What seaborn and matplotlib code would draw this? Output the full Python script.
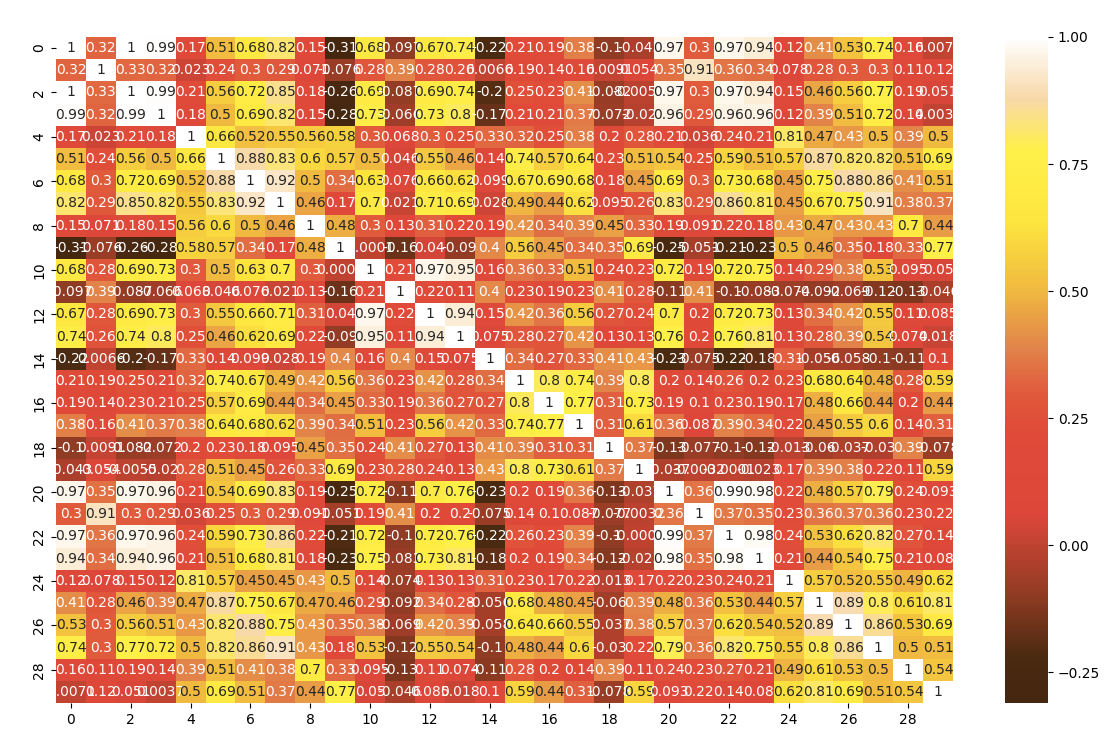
import numpy as np
import pandas as pd
import seaborn as sns
import matplotlib
matplotlib.use("Agg")
import matplotlib.pyplot as plt
from matplotlib.colors import LinearSegmentedColormap
from matplotlib.ticker import MultipleLocator

# Upper-triangle correlation values: u_i holds columns i+1 .. 29 of row i
u0 = [0.32, 1, 0.99, 0.17, 0.51, 0.68, 0.82, 0.15, -0.31, 0.68, -0.097, 0.67, 0.74, -0.22, 0.21, 0.19, 0.38, -0.1, -0.043, 0.97, 0.3, 0.97, 0.94, 0.12, 0.41, 0.53, 0.74, 0.16, 0.0071]
u1 = [0.33, 0.32, 0.023, 0.24, 0.3, 0.29, 0.071, -0.076, 0.28, 0.39, 0.28, 0.26, 0.0066, 0.19, 0.14, 0.16, 0.0091, 0.054, 0.35, 0.91, 0.36, 0.34, 0.078, 0.28, 0.3, 0.3, 0.11, 0.12]
u2 = [0.99, 0.21, 0.56, 0.72, 0.85, 0.18, -0.26, 0.69, -0.087, 0.69, 0.74, -0.2, 0.25, 0.23, 0.41, -0.082, -0.0055, 0.97, 0.3, 0.97, 0.94, 0.15, 0.46, 0.56, 0.77, 0.19, 0.051]
u3 = [0.18, 0.5, 0.69, 0.82, 0.15, -0.28, 0.73, -0.066, 0.73, 0.8, -0.17, 0.21, 0.21, 0.37, -0.072, -0.02, 0.96, 0.29, 0.96, 0.96, 0.12, 0.39, 0.51, 0.72, 0.14, 0.0037]
u4 = [0.66, 0.52, 0.55, 0.56, 0.58, 0.3, 0.068, 0.3, 0.25, 0.33, 0.32, 0.25, 0.38, 0.2, 0.28, 0.21, 0.036, 0.24, 0.21, 0.81, 0.47, 0.43, 0.5, 0.39, 0.5]
u5 = [0.88, 0.83, 0.6, 0.57, 0.5, 0.046, 0.55, 0.46, 0.14, 0.74, 0.57, 0.64, 0.23, 0.51, 0.54, 0.25, 0.59, 0.51, 0.57, 0.87, 0.82, 0.82, 0.51, 0.69]
u6 = [0.92, 0.5, 0.34, 0.63, 0.076, 0.66, 0.62, 0.099, 0.67, 0.69, 0.68, 0.18, 0.45, 0.69, 0.3, 0.73, 0.68, 0.45, 0.75, 0.88, 0.86, 0.41, 0.51]
u7 = [0.46, 0.17, 0.7, 0.021, 0.71, 0.69, 0.028, 0.49, 0.44, 0.62, 0.095, 0.26, 0.83, 0.29, 0.86, 0.81, 0.45, 0.67, 0.75, 0.91, 0.38, 0.37]
u8 = [0.48, 0.3, 0.13, 0.31, 0.22, 0.19, 0.42, 0.34, 0.39, 0.45, 0.33, 0.19, 0.091, 0.22, 0.18, 0.43, 0.47, 0.43, 0.43, 0.7, 0.44]
u9 = [0.0001, -0.16, 0.04, -0.09, 0.4, 0.56, 0.45, 0.34, 0.35, 0.69, -0.25, -0.051, -0.21, -0.23, 0.5, 0.46, 0.35, 0.18, 0.33, 0.77]
u10 = [0.21, 0.97, 0.95, 0.16, 0.36, 0.33, 0.51, 0.24, 0.23, 0.72, 0.19, 0.72, 0.75, 0.14, 0.29, 0.38, 0.53, 0.095, 0.05]
u11 = [0.22, 0.11, 0.4, 0.23, 0.19, 0.23, 0.41, 0.28, -0.11, 0.41, -0.1, -0.083, -0.074, -0.092, -0.069, -0.12, -0.13, -0.046]
u12 = [0.94, 0.15, 0.42, 0.36, 0.56, 0.27, 0.24, 0.7, 0.2, 0.72, 0.73, 0.13, 0.34, 0.42, 0.55, 0.11, 0.085]
u13 = [0.075, 0.28, 0.27, 0.42, 0.13, 0.13, 0.76, 0.2, 0.76, 0.81, 0.13, 0.28, 0.39, 0.54, 0.074, 0.018]
u14 = [0.34, 0.27, 0.33, 0.41, 0.43, -0.23, -0.075, -0.22, -0.18, 0.31, -0.056, -0.058, -0.1, -0.11, 0.1]
u15 = [0.8, 0.74, 0.39, 0.8, 0.2, 0.14, 0.26, 0.2, 0.23, 0.68, 0.64, 0.48, 0.28, 0.59]
u16 = [0.77, 0.31, 0.73, 0.19, 0.1, 0.23, 0.19, 0.17, 0.48, 0.66, 0.44, 0.2, 0.44]
u17 = [0.31, 0.61, 0.36, 0.087, 0.39, 0.34, 0.22, 0.45, 0.55, 0.6, 0.14, 0.31]
u18 = [0.37, -0.13, -0.077, -0.1, -0.12, -0.013, -0.06, -0.037, -0.03, 0.39, -0.078]
u19 = [-0.037, -0.0032, -0.0001, -0.023, 0.17, 0.39, 0.38, 0.22, 0.11, 0.59]
u20 = [0.36, 0.99, 0.98, 0.22, 0.48, 0.57, 0.79, 0.24, 0.093]
u21 = [0.37, 0.35, 0.23, 0.36, 0.37, 0.36, 0.23, 0.22]
u22 = [0.98, 0.24, 0.53, 0.62, 0.82, 0.27, 0.14]
u23 = [0.21, 0.44, 0.54, 0.75, 0.21, 0.08]
u24 = [0.57, 0.52, 0.55, 0.49, 0.62]
u25 = [0.89, 0.8, 0.61, 0.81]
u26 = [0.86, 0.53, 0.69]
u27 = [0.5, 0.51]
u28 = [0.54]

upper_rows = [u0, u1, u2, u3, u4, u5, u6, u7, u8, u9, u10, u11, u12, u13, u14,
              u15, u16, u17, u18, u19, u20, u21, u22, u23, u24, u25, u26, u27, u28]
labels = list(range(30))

n = len(labels)
mat = np.eye(n)
for i, row in enumerate(upper_rows):
    for k, v in enumerate(row):
        j = i + 1 + k
        mat[i, j] = v
        mat[j, i] = v
df = pd.DataFrame(mat, index=labels, columns=labels)

vmin, vmax = -0.31, 1.0
def pos(v):
    return (v - vmin) / (vmax - vmin)

nodes = [(-0.31, "#45260f"), (-0.22, "#4a2a10"), (-0.10, "#903b23"),
         (0.06, "#dc473a"), (0.22, "#e04a38"), (0.30, "#e05a3c"),
         (0.39, "#e2844a"), (0.50, "#f0b840"), (0.64, "#fde63e"),
         (0.78, "#fff04a"), (0.88, "#f8d8a8"), (1.0, "#ffffff")]
cmap = LinearSegmentedColormap.from_list("custom", [(pos(v), c) for v, c in nodes])

fig = plt.figure(figsize=(11.14, 7.41), dpi=100)
ax = fig.add_axes([56/1114, 38/741, 897/1114, 666/741])
cax = fig.add_axes([1005/1114, 38/741, 43/1114, 666/741])
sns.heatmap(df, annot=True, cmap=cmap, vmin=vmin, vmax=vmax, ax=ax, cbar_ax=cax,
            xticklabels=2, yticklabels=2)
cax.yaxis.set_major_locator(MultipleLocator(0.25))
cax.set_yticklabels([f"{t:.2f}".replace("-", "\u2212") for t in cax.get_yticks()])
cax.set_ylim(vmin, vmax)
fig.savefig("out.png", dpi=100)
